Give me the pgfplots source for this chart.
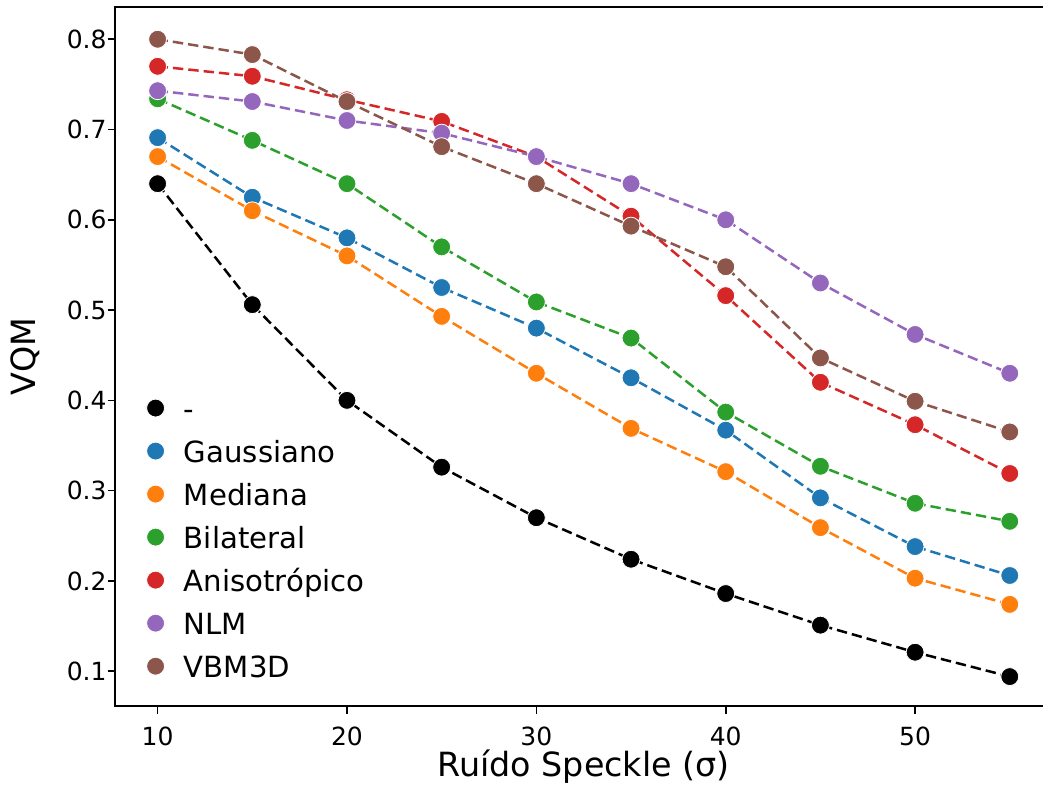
\documentclass[border=0pt]{standalone}
\usepackage{fontspec}
\setmainfont{DejaVu Sans}
\usepackage{pgfplots}
\pgfplotsset{compat=1.18}

\definecolor{c0}{HTML}{1F77B4}
\definecolor{c1}{HTML}{FF7F0E}
\definecolor{c2}{HTML}{2CA02C}
\definecolor{c3}{HTML}{D62728}
\definecolor{c4}{HTML}{9467BD}
\definecolor{c5}{HTML}{8C564B}

\pgfplotsset{
  ser/.style={color=#1, line width=1.2pt, dash pattern=on 5pt off 2.4pt,
    mark=*, mark size=4.3pt,
    mark options={solid, fill=#1, draw=white, line width=0.4pt}},
}

\begin{document}
\begin{tikzpicture}
\begin{axis}[
  name=ax,
  scale only axis,
  width=449.9pt, height=335.5pt,
  xmin=7.75, xmax=57.25,
  ymin=0.0611, ymax=0.8354,
  xtick={10,20,30,40,50},
  ytick={0.1,0.2,0.3,0.4,0.5,0.6,0.7,0.8},
  /pgf/number format/assume math mode=true,
  tick label style={font=\fontsize{12}{14}\selectfont},
  yticklabel style={xshift=3pt, /pgf/number format/fixed,
    /pgf/number format/fixed zerofill, /pgf/number format/precision=1},
  xticklabel style={yshift=-3pt},
  tick align=outside, xtick pos=bottom, ytick pos=left,
  major tick length=3.5pt,
  tick style={black, line width=0.8pt},
  axis line style={line width=0.8pt},
  xlabel={Ruído Speckle (σ)},
  ylabel={VQM},
  label style={font=\fontsize{16}{18}\selectfont},
  xlabel style={at={(axis description cs:0.5,-0.1008)}, anchor=base},
  ylabel style={at={(axis description cs:-0.0956,0.5)}, anchor=center},
  legend cell align=left,
  legend style={draw=none, fill=none, inner sep=0pt,
    at={(axis description cs:0.0333,0.0304)}, anchor=south west,
    font=\fontsize{14}{16}\selectfont, row sep=7.15pt,
    nodes={inner sep=0pt, text height=10pt, text depth=3.5pt},
    /tikz/every odd column/.append style={column sep=9.3pt}},
  legend image code/.code={\draw plot[only marks] coordinates {(0pt,2.1pt)};},
]
\addplot[ser=black] coordinates {(10,0.640) (15,0.506) (20,0.400) (25,0.326) (30,0.270) (35,0.224) (40,0.186) (45,0.151) (50,0.121) (55,0.094)};
\addlegendentry{-}
\addplot[ser=c0] coordinates {(10,0.691) (15,0.625) (20,0.580) (25,0.525) (30,0.480) (35,0.425) (40,0.367) (45,0.292) (50,0.238) (55,0.206)};
\addlegendentry{Gaussiano}
\addplot[ser=c1] coordinates {(10,0.670) (15,0.610) (20,0.560) (25,0.493) (30,0.430) (35,0.369) (40,0.321) (45,0.259) (50,0.203) (55,0.174)};
\addlegendentry{Mediana}
\addplot[ser=c2] coordinates {(10,0.734) (15,0.688) (20,0.640) (25,0.570) (30,0.509) (35,0.469) (40,0.387) (45,0.327) (50,0.286) (55,0.266)};
\addlegendentry{Bilateral}
\addplot[ser=c3] coordinates {(10,0.770) (15,0.759) (20,0.733) (25,0.709) (30,0.670) (35,0.604) (40,0.516) (45,0.420) (50,0.373) (55,0.319)};
\addlegendentry{Anisotrópico}
\addplot[ser=c4] coordinates {(10,0.743) (15,0.731) (20,0.710) (25,0.696) (30,0.670) (35,0.640) (40,0.600) (45,0.530) (50,0.473) (55,0.430)};
\addlegendentry{NLM}
\addplot[ser=c5] coordinates {(10,0.800) (15,0.783) (20,0.731) (25,0.681) (30,0.640) (35,0.593) (40,0.548) (45,0.447) (50,0.399) (55,0.365)};
\addlegendentry{VBM3D}
\end{axis}
% crop like the reference: the right spine lies beyond the image edge
\pgfresetboundingbox
\path[use as bounding box] ([shift={(-55.2pt,-43pt)}]ax.south west) rectangle ([shift={(445.4pt,3.5pt)}]ax.north west);
\end{tikzpicture}
\end{document}
